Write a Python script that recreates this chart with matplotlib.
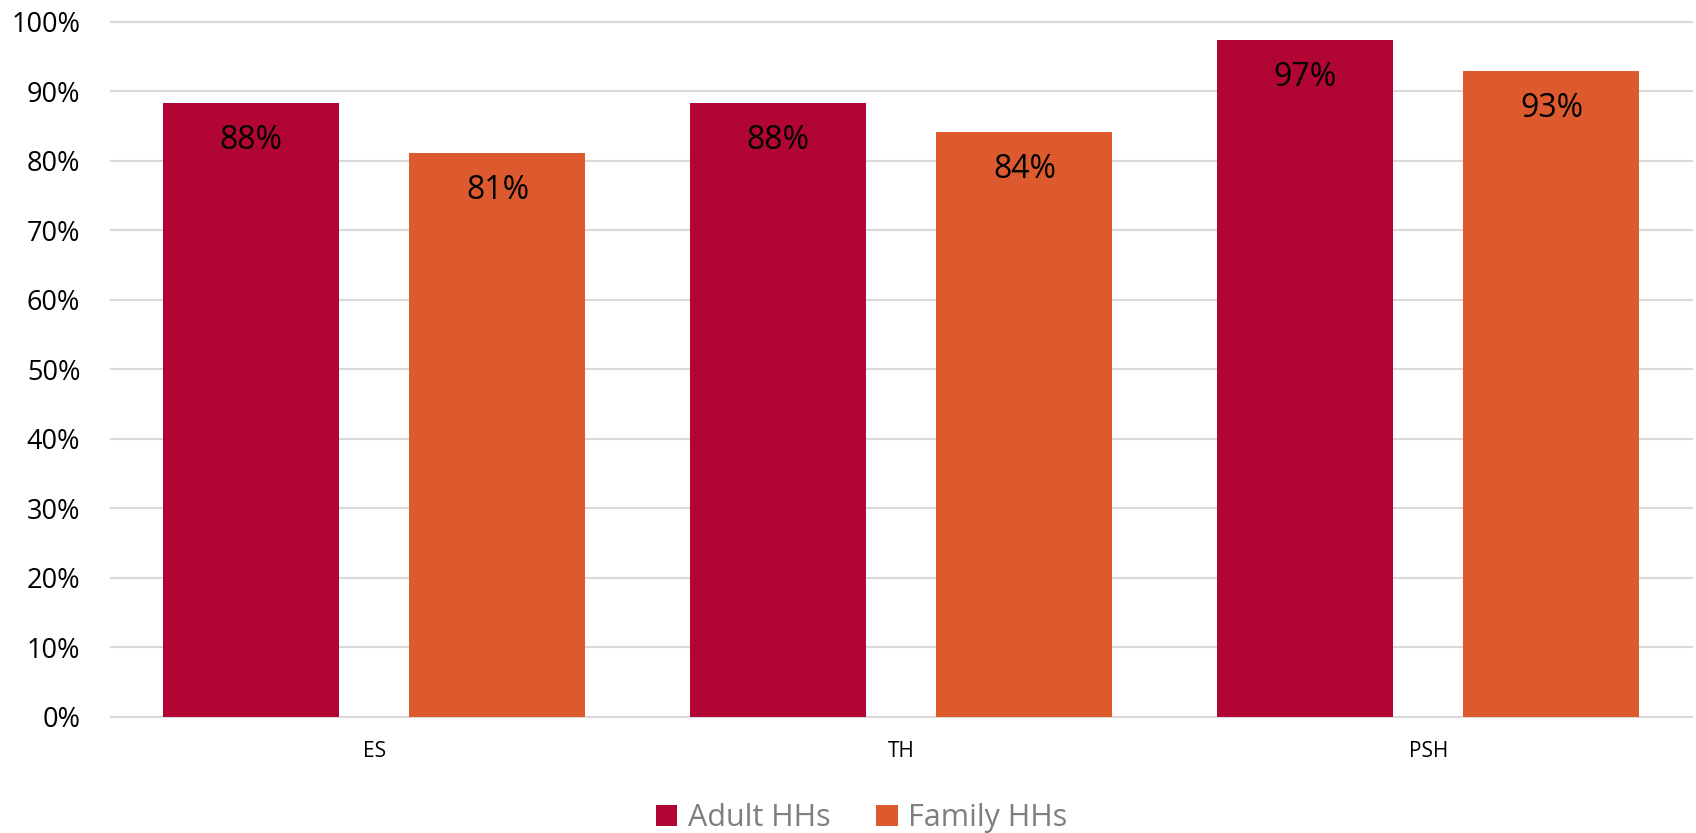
import matplotlib.pyplot as plt
import numpy as np

categories = ['ES', 'TH', 'PSH']
adult = [0.884, 0.883, 0.974]
family = [0.812, 0.842, 0.929]
series_names = ['Adult HHs', 'Family HHs']
colors = ['#B10534', '#DC5A2E']


def making_graph():
    plt.rcParams['font.family'] = ['Open Sans', 'DejaVu Sans']
    fig = plt.figure(figsize=(16.96, 8.33), dpi=100)
    ax = fig.add_axes([0.0654, 0.1393, 0.9322, 0.8343])

    x = np.arange(len(categories))
    w = 0.334
    off = w / 2 + 0.0665
    for vals, dx, c, name in zip([adult, family], [-off, off], colors, series_names):
        bars = ax.bar(x + dx, vals, width=w, color=c, label=name, zorder=3)
        for b, v in zip(bars, vals):
            ax.annotate(f'{round(v * 100):.0f}%', (b.get_x() + b.get_width() / 2, v),
                        xytext=(0, -27), textcoords='offset points',
                        ha='center', va='center', fontsize=23, color='black', zorder=4)

    ax.set_xlim(-0.5, len(categories) - 0.5)
    ax.set_ylim(0, 1.0)
    ax.set_yticks(np.arange(0, 1.01, 0.1))
    ax.set_yticklabels([f'{int(round(t * 100))}%' for t in np.arange(0, 1.01, 0.1)])
    ax.set_xticks(x)
    ax.set_xticklabels(categories)
    ax.tick_params(axis='y', length=0, pad=22, labelsize=19.5)
    ax.tick_params(axis='x', length=0, pad=17, labelsize=15)
    ax.yaxis.grid(True, color='#d9d9d9', linewidth=1.5, zorder=0)
    for ln in ax.get_ygridlines():
        ln.set_clip_on(False)
    for s in ax.spines.values():
        s.set_visible(False)

    leg = fig.legend(loc='center', bbox_to_anchor=(0.508, 0.018), ncol=2, frameon=False,
                     fontsize=22, handlelength=0.7, handleheight=0.7,
                     handletextpad=0.35, columnspacing=1.5)
    for t in leg.get_texts():
        t.set_color('#7f7f7f')
    fig.savefig('out.png', dpi=100)


def main():
    making_graph()


if __name__ == "__main__":
    main()
